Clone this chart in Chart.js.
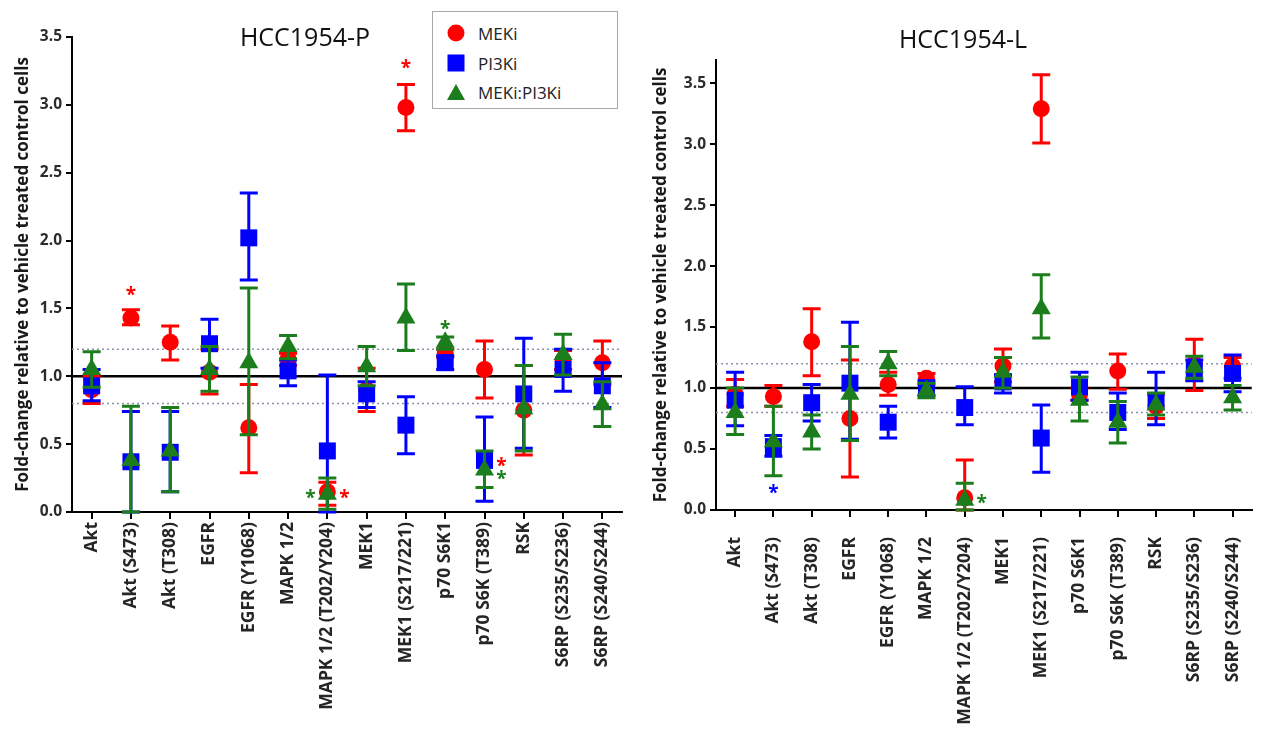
<!DOCTYPE html>
<html>
<head>
<meta charset="utf-8">
<script src="https://cdn.jsdelivr.net/npm/chart.js@4.4.1/dist/chart.umd.min.js"></script>
<style>
  html, body { margin: 0; padding: 0; background: #fff; overflow: hidden; }
  #wrap { position: relative; width: 1268px; height: 738px; overflow: hidden; font-family: 'Open Sans', sans-serif; }
  canvas { position: absolute; top: 0; }
  .title { position: absolute; font-size: 25px; color: #111; transform: translate(-50%, -50%); white-space: nowrap; }
  .legend { position: absolute; left: 432px; top: 11px; width: 184px; height: 96px; border: 1.5px solid #a8a8a8; background: #fff; }
  .row { position: absolute; left: 0; width: 100%; height: 20px; }
  .row span { position: absolute; left: 45px; top: 50%; transform: translateY(-50%); font-size: 17px; color: #222; }
  .mk { position: absolute; left: 23px; top: 50%; transform: translate(-50%, -50%); }
  .mk.circle { width: 17px; height: 17px; border-radius: 50%; background: #ff0000; }
  .mk.rect { width: 17px; height: 17px; background: #0000ff; }
  .mk.tri { width: 0; height: 0; border-left: 9.5px solid transparent; border-right: 9.5px solid transparent; border-bottom: 16.5px solid #1b7d1b; }
</style>
</head>
<body>
<div id="wrap">
  <canvas id="chartP" width="634" height="738" style="left:0"></canvas>
  <canvas id="chartL" width="640" height="738" style="left:634px"></canvas>
  <div class="title" style="left:305px; top:36px">HCC1954-P</div>
  <div class="title" style="left:963px; top:38px">HCC1954-L</div>
  <div class="legend">
    <div class="row" style="top:11px"><div class="mk circle"></div><span>MEKi</span></div>
    <div class="row" style="top:41px"><div class="mk rect"></div><span>PI3Ki</span></div>
    <div class="row" style="top:70px"><div class="mk tri"></div><span>MEKi:PI3Ki</span></div>
  </div>
</div>
<script>
// categorias (iguales en los dos paneles)
const categories = ['Akt', 'Akt (S473)', 'Akt (T308)', 'EGFR', 'EGFR (Y1068)', 'MAPK 1/2',
  'MAPK 1/2 (T202/Y204)', 'MEK1', 'MEK1 (S217/221)', 'p70 S6K1', 'p70 S6K (T389)', 'RSK',
  'S6RP (S235/S236)', 'S6RP (S240/S244)'];
const seriesNames = ['MEKi', 'PI3Ki', 'MEKi:PI3Ki'];

// HCC1954-P: media, limite inferior y superior de la barra de error
const mekiP     = [0.90, 1.43, 1.25, 1.03, 0.62, 1.13, 0.15, 0.90, 2.98, 1.17, 1.05, 0.75, 1.12, 1.10];
const mekiPLo   = [0.80, 1.38, 1.12, 0.87, 0.29, 1.08, 0.05, 0.74, 2.81, 1.14, 0.84, 0.42, 1.05, 0.94];
const mekiPHi   = [1.00, 1.49, 1.37, 1.20, 0.94, 1.17, 0.22, 1.06, 3.15, 1.20, 1.26, 1.08, 1.19, 1.26];
const pi3kP     = [0.93, 0.37, 0.44, 1.24, 2.02, 1.04, 0.45, 0.87, 0.64, 1.10, 0.38, 0.87, 1.05, 0.93];
const pi3kPLo   = [0.82, 0.00, 0.15, 1.06, 1.71, 0.93, 0.00, 0.77, 0.43, 1.05, 0.08, 0.47, 0.89, 0.77];
const pi3kPHi   = [1.05, 0.74, 0.74, 1.42, 2.35, 1.12, 1.01, 0.96, 0.85, 1.15, 0.70, 1.28, 1.20, 1.10];
const comboP    = [1.05, 0.38, 0.45, 1.05, 1.10, 1.22, 0.13, 1.07, 1.43, 1.25, 0.31, 0.76, 1.16, 0.79];
const comboPLo  = [0.92, 0.00, 0.15, 0.89, 0.57, 1.13, 0.02, 0.93, 1.19, 1.20, 0.18, 0.45, 1.01, 0.63];
const comboPHi  = [1.18, 0.78, 0.77, 1.22, 1.65, 1.30, 0.25, 1.22, 1.68, 1.29, 0.45, 1.08, 1.31, 0.96];

// HCC1954-L
const mekiL     = [0.95, 0.93, 1.38, 0.75, 1.03, 1.08, 0.10, 1.18, 3.29, 0.95, 1.14, 0.85, 1.20, 1.18];
const mekiLLo   = [0.85, 0.85, 1.10, 0.27, 0.94, 1.03, 0.00, 1.05, 3.01, 0.90, 0.99, 0.75, 0.98, 1.08];
const mekiLHi   = [1.07, 1.02, 1.65, 1.23, 1.13, 1.12, 0.41, 1.32, 3.57, 1.00, 1.28, 0.95, 1.40, 1.25];
const pi3kL     = [0.90, 0.52, 0.88, 1.04, 0.72, 1.00, 0.84, 1.05, 0.59, 1.01, 0.80, 0.89, 1.15, 1.12];
const pi3kLLo   = [0.69, 0.44, 0.73, 0.58, 0.59, 0.94, 0.70, 0.96, 0.31, 0.90, 0.66, 0.70, 1.06, 0.97];
const pi3kLHi   = [1.13, 0.61, 1.03, 1.54, 0.85, 1.06, 1.01, 1.11, 0.86, 1.13, 0.96, 1.13, 1.23, 1.27];
const comboL    = [0.80, 0.56, 0.64, 0.95, 1.20, 0.98, 0.08, 1.13, 1.65, 0.90, 0.72, 0.86, 1.17, 0.92];
const comboLLo  = [0.62, 0.28, 0.50, 0.57, 1.10, 0.92, 0.00, 1.00, 1.41, 0.73, 0.55, 0.78, 1.08, 0.82];
const comboLHi  = [1.00, 0.85, 0.78, 1.34, 1.30, 1.04, 0.22, 1.25, 1.93, 1.09, 0.89, 0.96, 1.26, 1.02];

// asteriscos de significancia: [categoria, valor, serie, lado (-1 izq, 0 centro, 1 der)]
const starsP = [
  ['Akt (S473)', 1.63, 'MEKi', 0],
  ['MAPK 1/2 (T202/Y204)', 0.13, 'MEKi:PI3Ki', -1],
  ['MAPK 1/2 (T202/Y204)', 0.13, 'MEKi', 1],
  ['MEK1 (S217/221)', 3.30, 'MEKi', 0],
  ['p70 S6K1', 1.38, 'MEKi:PI3Ki', 0],
  ['p70 S6K (T389)', 0.37, 'MEKi', 1],
  ['p70 S6K (T389)', 0.27, 'MEKi:PI3Ki', 1]
];
const starsL = [
  ['Akt (S473)', 0.17, 'PI3Ki', 0],
  ['MAPK 1/2 (T202/Y204)', 0.09, 'MEKi:PI3Ki', 1]
];

// lineas de referencia
const refSolid = 1.0;
const refDotted = [0.8, 1.2];
const yTicksStep = 0.5;

const colors = { 'MEKi': '#ff0000', 'PI3Ki': '#0000ff', 'MEKi:PI3Ki': '#1b7d1b' };
const styles = { 'MEKi': ['circle', 8.5], 'PI3Ki': ['rect', 12], 'MEKi:PI3Ki': ['triangle', 11] };

Chart.defaults.font.family = "'Open Sans', sans-serif";

const errorBarPlugin = {
  id: 'errorBars',
  beforeDatasetsDraw(chart) {
    const { ctx, chartArea: a, scales: { y } } = chart;
    ctx.save();
    ctx.strokeStyle = '#8c93a6';
    ctx.lineWidth = 1.5;
    ctx.setLineDash([2, 3]);
    refDotted.forEach(v => {
      const py = y.getPixelForValue(v);
      ctx.beginPath(); ctx.moveTo(a.left, py); ctx.lineTo(a.right, py); ctx.stroke();
    });
    ctx.setLineDash([]);
    ctx.strokeStyle = '#000';
    ctx.lineWidth = 2.5;
    const py = y.getPixelForValue(refSolid);
    ctx.beginPath(); ctx.moveTo(a.left, py); ctx.lineTo(a.right, py); ctx.stroke();
    ctx.restore();
  },
  beforeDatasetDraw(chart, args) {
    const ds = chart.data.datasets[args.index];
    const { ctx, scales: { y } } = chart;
    ctx.save();
    ctx.strokeStyle = ds.borderColor;
    ctx.lineWidth = 3;
    args.meta.data.forEach((pt, j) => {
      const y1 = y.getPixelForValue(ds.lo[j]);
      const y2 = y.getPixelForValue(ds.hi[j]);
      ctx.beginPath();
      ctx.moveTo(pt.x, y1); ctx.lineTo(pt.x, y2);
      ctx.moveTo(pt.x - 9, y1); ctx.lineTo(pt.x + 9, y1);
      ctx.moveTo(pt.x - 9, y2); ctx.lineTo(pt.x + 9, y2);
      ctx.stroke();
    });
    ctx.restore();
  },
  afterDatasetsDraw(chart) {
    const stars = chart.canvas.id === 'chartP' ? starsP : starsL;
    const { ctx, scales: { x, y } } = chart;
    ctx.save();
    ctx.font = "bold 19px 'Open Sans'";
    ctx.textAlign = 'center';
    ctx.textBaseline = 'alphabetic';
    const m = ctx.measureText('*');
    const shift = (m.actualBoundingBoxAscent - m.actualBoundingBoxDescent) / 2;
    stars.forEach(([cat, val, serie, side]) => {
      ctx.fillStyle = colors[serie];
      const px = x.getPixelForValue(categories.indexOf(cat)) + side * 17;
      ctx.fillText('*', px, y.getPixelForValue(val) + shift);
    });
    ctx.restore();
  }
};

function buildChart(id, means, los, his, cfg) {
  const datasets = seriesNames.map((name, i) => ({
    label: name,
    data: means[i],
    lo: los[i],
    hi: his[i],
    order: seriesNames.length - i,   // verde encima, rojo debajo
    showLine: false,
    pointStyle: styles[name][0],
    pointRadius: styles[name][1],
    pointHoverRadius: styles[name][1],
    pointBackgroundColor: colors[name],
    pointBorderWidth: 0,
    borderColor: colors[name],
    clip: false
  }));

  return new Chart(document.getElementById(id), {
    type: 'line',
    data: { labels: categories, datasets: datasets },
    options: {
      responsive: false,
      animation: false,
      events: [],
      layout: { padding: { top: cfg.top, right: cfg.right, left: 0, bottom: 0 } },
      plugins: { legend: { display: false }, tooltip: { enabled: false } },
      scales: {
        x: {
          type: 'category',
          offset: true,
          grid: { drawOnChartArea: false, tickLength: 7, color: '#000', lineWidth: 2 },
          border: { color: '#000', width: 2 },
          ticks: {
            autoSkip: false, maxRotation: 90, minRotation: 90, padding: cfg.xPad,
            color: '#262626', font: { size: 17.5, weight: 'bold' }
          },
          afterFit: function(scale) { scale.height = cfg.xHeight; }
        },
        y: {
          min: 0,
          max: cfg.max,
          grid: { drawOnChartArea: false, tickLength: 6, color: '#000', lineWidth: 2 },
          border: { color: '#000', width: 2 },
          ticks: {
            stepSize: yTicksStep, padding: 4, color: '#2b2b2b',
            font: { size: 15.5, weight: 'bold' },
            callback: v => v.toFixed(1)
          },
          afterBuildTicks: function(scale) {
            scale.ticks = scale.ticks.filter(t => Math.abs(t.value / yTicksStep - Math.round(t.value / yTicksStep)) < 1e-6);
          },
          title: {
            display: true,
            text: 'Fold-change relative to vehicle treated control cells',
            color: '#1a1a1a',
            font: { size: 17, weight: 'bold' },
            padding: { top: cfg.titlePad, bottom: 0 }
          },
          afterFit: function(scale) { scale.width = cfg.yWidth; }
        }
      }
    },
    plugins: [errorBarPlugin]
  });
}

buildChart('chartP',
  [mekiP, pi3kP, comboP], [mekiPLo, pi3kPLo, comboPLo], [mekiPHi, pi3kPHi, comboPHi],
  { top: 37, right: 5, xHeight: 226, yWidth: 72, max: 3.5, titlePad: 12.5, xPad: 3 });

buildChart('chartL',
  [mekiL, pi3kL, comboL], [mekiLLo, pi3kLLo, comboLLo], [mekiLHi, pi3kLHi, comboLHi],
  { top: 60, right: 0, xHeight: 228, yWidth: 82, max: 3.69, titlePad: 16.5, xPad: 20 });
</script>
</body>
</html>
